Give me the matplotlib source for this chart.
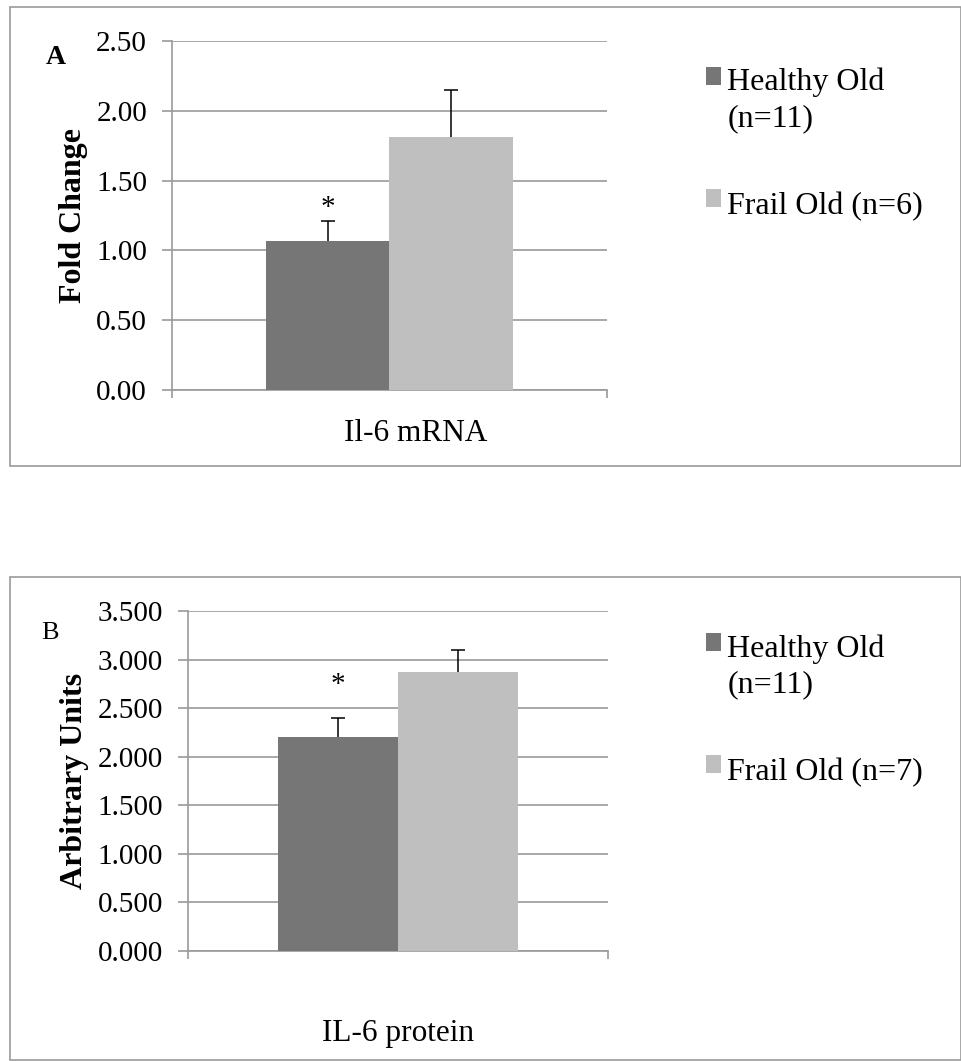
import matplotlib
matplotlib.use("Agg")
import matplotlib.pyplot as plt
from matplotlib.patches import Rectangle
from matplotlib.legend_handler import HandlerPatch
from matplotlib.transforms import ScaledTranslation

plt.rcParams['font.family'] = ['Liberation Serif', 'DejaVu Serif']

# ---- data ----
groups = ["Healthy Old\n(n=11)", "Frail Old (n=6)"]
groups_b = ["Healthy Old\n(n=11)", "Frail Old (n=7)"]
mrna_vals = [1.07, 1.81]
mrna_err = [0.14, 0.34]
prot_vals = [2.20, 2.87]
prot_err = [0.20, 0.23]
category_a = "Il-6 mRNA"
category_b = "IL-6 protein"
ticks_a = [0.0, 0.5, 1.0, 1.5, 2.0, 2.5]
ticks_b = [0.0, 0.5, 1.0, 1.5, 2.0, 2.5, 3.0, 3.5]
colors = ["#767676", "#bfbfbf"]
grid_col = "#9a9a9a"

W, H = 962, 1061
fig = plt.figure(figsize=(W / 100, H / 100), dpi=100)

def fx(px):
    return px / W

def fy(py):
    return 1 - py / H

# panel borders
fig.patches.append(Rectangle((fx(10), fy(466)), fx(961) - fx(10), fy(7) - fy(466),
                             transform=fig.transFigure, fill=False, edgecolor="#9a9a9a", lw=1.2))
fig.patches.append(Rectangle((fx(10), fy(1060)), fx(961) - fx(10), fy(577) - fy(1060),
                             transform=fig.transFigure, fill=False, edgecolor="#9a9a9a", lw=1.2))


def shifted_handler(shift):
    def make(legend, orig_handle, xdescent, ydescent, width, height, fontsize):
        return Rectangle((-xdescent, -ydescent + shift), width, height)
    return HandlerPatch(patch_func=make)


def panel(rect, vals, errs, labels, ticks, fmt, ylabel, cat, catpad, cat_dx, bw, ypad,
          letter, letter_pos, letter_bold, letter_size, star_off, leg_anchor):
    ax = fig.add_axes(rect)
    xs = [-bw / 2, bw / 2]
    bars = []
    for x, v, e, c, lab in zip(xs, vals, errs, colors, labels):
        b = ax.bar(x, v, width=bw, color=c, label=lab, zorder=3)
        bars.append(b)
        eb = ax.errorbar(x, v, yerr=[[0], [e]], fmt="none", ecolor="black",
                         elinewidth=1.1, capsize=4.7, capthick=1.1, zorder=4)
        eb[1][0].set_visible(False)  # only the upper cap
    # significance marker above first bar
    ax.text(xs[0], vals[0] + errs[0] + star_off, "*", ha="center", va="bottom",
            fontsize=21, zorder=5)
    ax.set_xlim(-0.5, 0.5)
    ax.set_ylim(ticks[0], ticks[-1])
    ax.set_yticks(ticks)
    ax.set_yticklabels([fmt.format(t) for t in ticks], fontsize=21)
    ax.yaxis.grid(True, color=grid_col, lw=1.2, zorder=0)
    ax.set_axisbelow(True)
    ax.tick_params(axis="y", length=7, color=grid_col, width=1.2, pad=11)
    ax.set_xticks([-0.5, 0.5])
    ax.set_xticklabels(["", ""])
    ax.tick_params(axis="x", which="major", length=6, color=grid_col, width=1.2)
    ax.set_xticks([0], minor=True)
    ax.set_xticklabels([cat], minor=True, fontsize=22.5)
    ax.tick_params(axis="x", which="minor", length=0, pad=catpad)
    for t in ax.get_xticklabels(minor=True):
        t.set_transform(t.get_transform() + ScaledTranslation(cat_dx / 100, 0, fig.dpi_scale_trans))
    for s in ["top", "right"]:
        ax.spines[s].set_visible(False)
    for s in ["left", "bottom"]:
        ax.spines[s].set_color(grid_col)
        ax.spines[s].set_linewidth(1.2)
    ax.set_ylabel(ylabel, fontsize=23, fontweight="bold", labelpad=ypad)
    fig.text(fx(letter_pos[0]), fy(letter_pos[1]), letter, fontsize=letter_size,
             fontweight="bold" if letter_bold else "normal", ha="center", va="center")
    leg = fig.legend(handles=[b[0] for b in bars], labels=labels, loc="upper left",
                     bbox_to_anchor=leg_anchor, frameon=False, fontsize=23,
                     handlelength=0.47, handleheight=0.47, handletextpad=0.2,
                     labelspacing=1.85, borderaxespad=0, borderpad=0,
                     handler_map={bars[0][0]: shifted_handler(17.5),
                                  bars[1][0]: shifted_handler(3.5)})
    for t in leg.get_texts():
        t.set_linespacing(1.3)
    return ax


panel([fx(172), fy(390), fx(607) - fx(172), fy(41) - fy(390)],
      mrna_vals, mrna_err, groups, ticks_a, "{:.2f}", "Fold Change",
      category_a, 21, 26, 0.284, 6, "A", (56, 57), True, 20, 0.0, (fx(706), fy(68)))

panel([fx(188), fy(951), fx(608) - fx(188), fy(611) - fy(951)],
      prot_vals, prot_err, groups_b, ticks_b, "{:.3f}", "Arbitrary Units",
      category_b, 49, 0, 0.286, 6, "B", (50, 633), False, 19, 0.2, (fx(706), fy(634)))

fig.savefig("out.png", dpi=100)
